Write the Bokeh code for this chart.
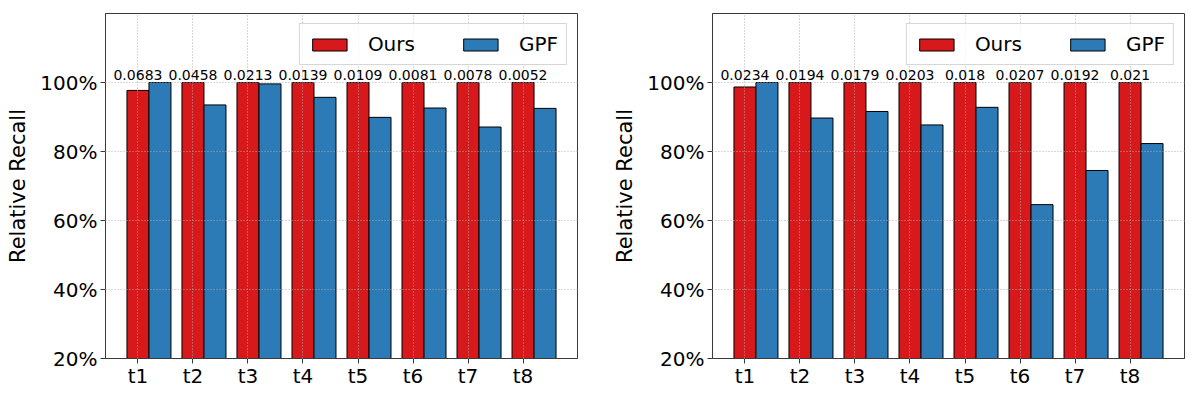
from bokeh.plotting import figure
from bokeh.models import (ColumnDataSource, FixedTicker, LabelSet, Legend,
                          LegendItem, Range1d)
from bokeh.layouts import row
from bokeh.transform import dodge
from bokeh.core.properties import value
from bokeh.embed import file_html
from bokeh.resources import INLINE

# ---------------- data ----------------
tasks = ["t1", "t2", "t3", "t4", "t5", "t6", "t7", "t8"]
series_names = ["Ours", "GPF"]

ours_left = [97.7, 100, 100, 100, 100, 100, 100, 100]
gpf_left = [100, 93.5, 99.6, 95.7, 89.9, 92.6, 87.1, 92.5]
cost_left = ["0.0683", "0.0458", "0.0213", "0.0139", "0.0109", "0.0081", "0.0078", "0.0052"]

ours_right = [98.7, 100, 100, 100, 100, 100, 100, 100]
gpf_right = [100, 89.7, 91.6, 87.7, 92.8, 64.6, 74.5, 82.3]
cost_right = ["0.0234", "0.0194", "0.0179", "0.0203", "0.018", "0.0207", "0.0192", "0.021"]

y_ticks = [20, 40, 60, 80, 100]
y_tick_labels = ["20%", "40%", "60%", "80%", "100%"]
y_label = "Relative Recall"

RED = "#d7191c"
BLUE = "#2c7bb6"
FONT = "DejaVu Sans"


def make(ours, gpf, cost, left_border, right_border):
    idx = list(range(len(tasks)))
    src = ColumnDataSource(dict(
        x=idx, ours=ours, gpf=gpf, cost=cost,
        ly=[max(a, b) for a, b in zip(ours, gpf)],
    ))
    p = figure(frame_width=472, frame_height=345,
               x_range=Range1d(-0.59, 7.99), y_range=Range1d(20, 120),
               output_backend="svg", toolbar_location=None,
               min_border_left=left_border, min_border_right=right_border,
               min_border_top=13, min_border_bottom=28)
    p.background_fill_color = "white"
    p.border_fill_color = "white"
    p.outline_line_color = "#3a3a3a"
    p.outline_line_width = 1

    r1 = p.vbar(x="x", top="ours", bottom=0, width=0.4, source=src,
                fill_color=RED, line_color="black", line_width=1)
    r2 = p.vbar(x=dodge("x", 0.4), top="gpf", bottom=0, width=0.4, source=src,
                fill_color=BLUE, line_color="black", line_width=1)

    labels = LabelSet(x="x", y="ly", text="cost", source=src,
                      text_align="center", text_baseline="alphabetic",
                      y_offset=3, text_font=value(FONT),
                      text_font_size=value("14px"), text_color="black")
    p.add_layout(labels)

    # axes
    p.xaxis.ticker = FixedTicker(ticks=idx)
    p.xaxis.major_label_overrides = {i: t for i, t in enumerate(tasks)}
    p.yaxis.ticker = FixedTicker(ticks=y_ticks)
    p.yaxis.major_label_overrides = {v: s for v, s in zip(y_ticks, y_tick_labels)}
    for ax in (p.xaxis, p.yaxis):
        ax.major_tick_out = 5
        ax.major_tick_in = 0
        ax.minor_tick_out = 0
        ax.minor_tick_in = 0
        ax.axis_line_color = "#3a3a3a"
        ax.major_tick_line_color = "#3a3a3a"
        ax.major_label_text_font = FONT
        ax.major_label_text_font_size = "20px"
        ax.major_label_text_color = "black"
    p.xaxis.major_label_standoff = 0
    p.yaxis.major_label_standoff = 3
    p.yaxis.axis_label = y_label
    p.yaxis.axis_label_text_font = FONT
    p.yaxis.axis_label_text_font_size = "21px"
    p.yaxis.axis_label_text_font_style = "normal"
    p.yaxis.axis_label_text_color = "black"
    p.yaxis.axis_label_standoff = 7

    # grid
    p.grid.grid_line_color = "#a8a8a8"
    p.grid.grid_line_dash = "1 2"
    p.grid.grid_line_width = 1
    p.grid.grid_line_alpha = 0.9
    p.grid.level = "guide"

    legend = Legend(items=[LegendItem(label=series_names[0], renderers=[r1]),
                           LegendItem(label=series_names[1], renderers=[r2])],
                    location="top_right", orientation="horizontal")
    legend.glyph_width = 43
    legend.glyph_height = 15
    legend.label_standoff = 17
    legend.spacing = 44
    legend.padding = 8
    legend.margin = 10
    legend.label_text_font = FONT
    legend.label_text_font_size = "20px"
    legend.label_text_color = "black"
    legend.border_line_color = "#cccccc"
    legend.border_line_alpha = 0.8
    legend.background_fill_color = "white"
    legend.background_fill_alpha = 0.8
    p.add_layout(legend)
    return p


p1 = make(ours_left, gpf_left, cost_left, 105, 33)
p2 = make(ours_right, gpf_right, cost_right, 97, 4)
layout = row(p1, p2)

open("out.html", "w").write(file_html(layout, INLINE))
